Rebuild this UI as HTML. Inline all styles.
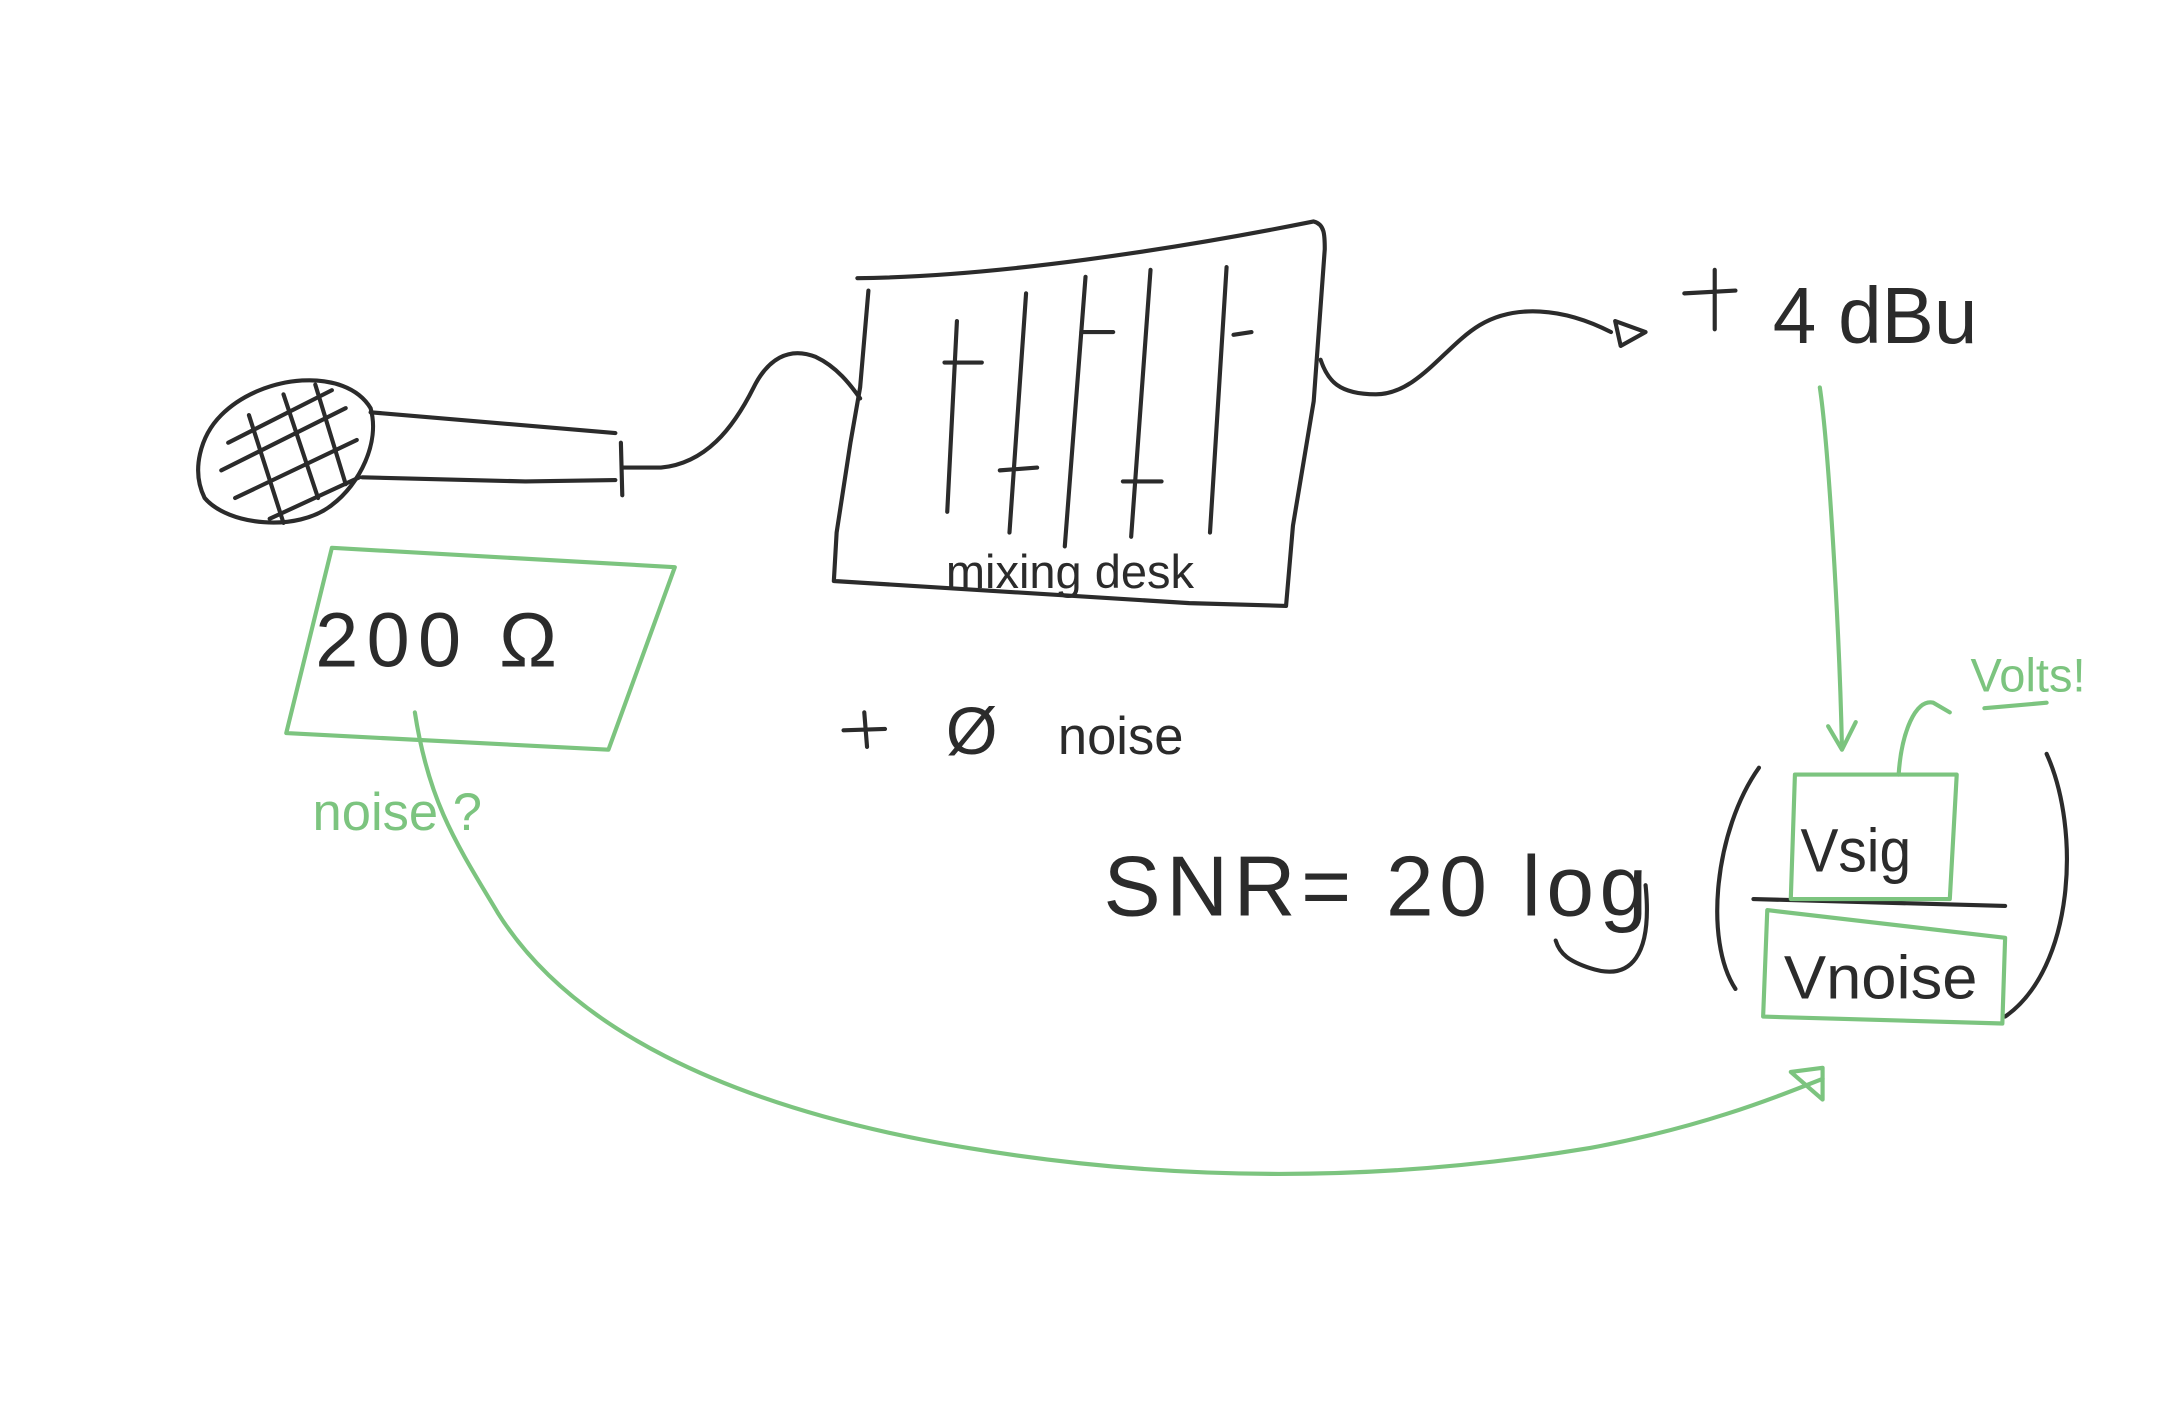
<!DOCTYPE html>
<html><head><meta charset="utf-8"><style>
html,body{margin:0;padding:0;background:#fff;}
svg{display:block;}
text{font-family:"Liberation Sans","DejaVu Sans",sans-serif;}
</style></head><body>
<svg width="2160" height="1404" viewBox="0 0 1562 1015" xmlns="http://www.w3.org/2000/svg">
<g fill="none" stroke="#2b2b2b" stroke-width="3" stroke-linecap="round" stroke-linejoin="round">
<path d="M160,300 C190,270 250,265 268,295 C275,320 260,350 240,365 C215,385 165,380 148,360 C138,340 145,315 160,300 Z"/>
<path d="M165,320 L240,282 M160,340 L250,295 M170,360 L258,318 M195,375 L260,345"/>
<path d="M180,300 L205,378 M205,285 L230,360 M228,278 L250,350"/>
<path d="M268,298 L445,313 M262,345 L380,348 L445,347"/>
<path d="M449,320 L450,358"/>
<path d="M450,338 L478,338 C510,335 530,310 545,280 C555,260 570,250 590,258 C605,265 615,278 622,288"/>
<path d="M620,201 C720,200 850,180 950,160 C958,162 958,170 958,180 L950,290 L935,380 L930,438 L860,436 L603,420 L605,385 L615,320 L622,280 L628,210"/>
<path d="M692,232 L685,370 M742,212 L730,385 M785,200 L770,395 M832,195 L818,388 M887,193 L875,385"/>
<path d="M683,262 L710,262 M723,340 L750,338 M782,240 L805,240 M812,348 L840,348 M892,242 L905,240"/>
<path d="M955,260 C960,275 968,285 995,285 C1025,285 1045,250 1070,235 C1095,220 1130,222 1165,240"/>
<path d="M1168,232 L1190,240 L1172,250 Z"/>
<path d="M1218,212 L1255,210 M1240,195 L1240,238"/>
<path d="M610,528 L640,527 M625,515 L627,540"/>
<path d="M1272,555 C1240,600 1232,680 1255,715"/>
<path d="M1480,545 C1505,600 1500,700 1450,735"/>
<path d="M1268,650 L1450,655"/>
<path d="M1190,640 C1195,690 1180,710 1150,700 C1135,695 1128,690 1125,680"/>
</g>
<g fill="#2b2b2b">
<text x="228" y="482" font-size="56" letter-spacing="6">200 Ω</text>
<text x="1282" y="248" font-size="58" textLength="148" lengthAdjust="spacingAndGlyphs">4 dBu</text>
<text x="684" y="425" font-size="34">mixing desk</text>
<text x="684" y="545" font-size="48">Ø</text>
<text x="765" y="545" font-size="38">noise</text>
<text x="798" y="662" font-size="62" letter-spacing="4">SNR= 20 log</text>
<text x="1302" y="630" font-size="44" textLength="80" lengthAdjust="spacingAndGlyphs">Vsig</text>
<text x="1290" y="722" font-size="44" textLength="140" lengthAdjust="spacingAndGlyphs">Vnoise</text>
</g>
<g fill="none" stroke="#7cc47f" stroke-width="3" stroke-linecap="round" stroke-linejoin="round">
<path d="M240,396 L488,410 L440,542 L207,530 Z"/>
<path d="M1316,280 C1322,320 1330,450 1332,540"/>
<path d="M1322,525 L1332,542 L1342,522"/>
<path d="M1373,560 C1375,530 1385,505 1398,508 L1410,515"/>
<path d="M1298,560 L1415,560 L1410,650 L1295,650 Z"/>
<path d="M1278,658 L1450,678 L1448,740 L1275,735 Z"/>
<path d="M1435,512 L1480,508"/>
<path d="M300,515 C310,580 330,610 360,660 C410,740 520,800 700,830 C850,855 1000,855 1150,830 C1230,815 1280,795 1318,780"/>
<path d="M1295,775 L1318,795 L1318,772 Z"/>
</g>
<g fill="#7cc47f">
<text x="226" y="600" font-size="38">noise ?</text>
<text x="1425" y="500" font-size="34">Volts!</text>
</g>
</svg>
</body></html>
